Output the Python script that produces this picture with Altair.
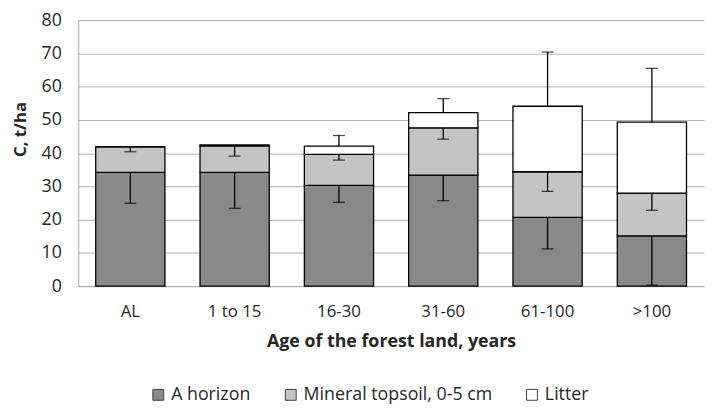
import altair as alt
import pandas as pd

categories = ["AL", "1 to 15", "16-30", "31-60", "61-100", ">100"]
components = ["A horizon", "Mineral topsoil, 0-5 cm", "Litter"]
colors = ["#898989", "#c4c4c4", "#ffffff"]

a_horizon = [34.2, 34.2, 30.3, 33.4, 20.7, 15.1]
mineral = [7.7, 8.0, 9.3, 14.2, 13.7, 12.9]
litter = [0.0, 0.3, 2.5, 4.6, 19.7, 21.3]

err_a = [9.3, 10.8, 5.1, 7.7, 9.5, 14.8]
err_mineral = [1.5, 3.1, 1.7, 3.4, 5.9, 5.2]
err_litter = [0.0, 0.0, 3.2, 4.2, 16.3, 16.2]

y_ticks = [0, 10, 20, 30, 40, 50, 60, 70, 80]

# build tables
rows = []
for i, c in enumerate(categories):
    for j, (comp, vals) in enumerate(zip(components, [a_horizon, mineral, litter])):
        rows.append({"cat": c, "comp": comp, "value": vals[i], "ord": j})
df_bars = pd.DataFrame(rows)

erows = []
for i, c in enumerate(categories):
    a_top = a_horizon[i]
    m_top = a_top + mineral[i]
    l_top = m_top + litter[i]
    erows.append({"cat": c, "y": a_top, "y2": a_top - err_a[i]})
    erows.append({"cat": c, "y": m_top, "y2": m_top - err_mineral[i]})
    if err_litter[i] > 0:
        erows.append({"cat": c, "y": l_top, "y2": l_top + err_litter[i]})
df_err = pd.DataFrame(erows)

FONT = "Open Sans"
TXT = "#262626"

x_axis = alt.Axis(
    title="Age of the forest land, years",
    labelAngle=0,
    ticks=False,
    tickSize=0,
    labelPadding=18,
    labelFontSize=17,
    titleFontSize=18,
    titleFontWeight="bold",
    titleY=47,
    titleBaseline="top",
    domainColor="#a6a6a6",
    grid=False,
)
x_scale = alt.Scale(paddingInner=0.3365, paddingOuter=0.168)
y_scale = alt.Scale(domain=[0, 80], nice=False)
y_axis = alt.Axis(
    title="C, t/ha",
    values=y_ticks,
    labelOverlap=False,
    ticks=False,
    tickSize=0,
    labelPadding=17,
    labelFontSize=18,
    titleFontSize=17,
    titleFontWeight="bold",
    titleX=-58,
    titleY=110,
    titleAlign="center",
    titleBaseline="middle",
    titleAngle=270,
    domainColor="#a6a6a6",
    gridColor="#b0b0b0",
    gridWidth=1,
)

bars = alt.Chart(df_bars).mark_bar(stroke="black", strokeWidth=1.3).encode(
    x=alt.X("cat:N", sort=categories, scale=x_scale, axis=x_axis),
    y=alt.Y("value:Q", stack="zero", scale=y_scale, axis=y_axis),
    color=alt.Color(
        "comp:N",
        scale=alt.Scale(domain=components, range=colors),
        legend=alt.Legend(
            title=None,
            orient="none",
            legendX=72,
            legendY=370,
            direction="horizontal",
            symbolType="square",
            symbolSize=121,
            symbolStrokeColor="#404040",
            symbolStrokeWidth=1,
            labelFontSize=18,
            labelOffset=4,
            labelLimit=400,
            columnPadding=31,
        ),
    ),
    order=alt.Order("ord:Q"),
)

rules = alt.Chart(df_err).mark_rule(color="black", strokeWidth=1.3).encode(
    x=alt.X("cat:N", sort=categories, scale=x_scale, axis=x_axis),
    y=alt.Y("y:Q", scale=y_scale, axis=y_axis),
    y2="y2:Q",
)
caps = alt.Chart(df_err).mark_tick(color="black", thickness=1.3, size=12).encode(
    x=alt.X("cat:N", sort=categories, scale=x_scale, axis=x_axis),
    y=alt.Y("y2:Q", scale=y_scale, axis=y_axis),
)

chart = (
    alt.layer(bars, rules, caps)
    .properties(
        width=633,
        height=269,
        autosize="none",
        padding={"left": 71, "top": 10, "right": 2, "bottom": 121},
    )
    .configure_view(stroke=None)
    .configure_axis(labelFont=FONT, titleFont=FONT, labelColor=TXT, titleColor=TXT)
    .configure_legend(labelFont=FONT, labelColor=TXT)
)

chart.save("out.html", embed_options={"renderer": "svg", "actions": False})
